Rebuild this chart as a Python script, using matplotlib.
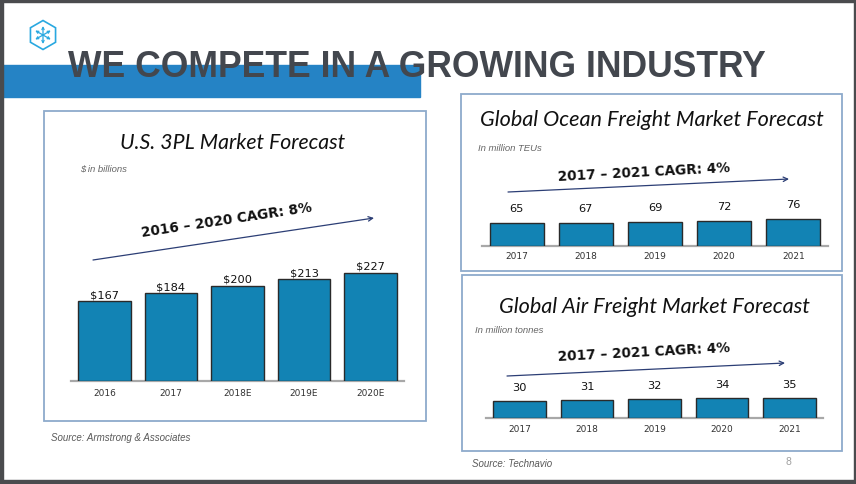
import matplotlib
matplotlib.use('Agg')
import matplotlib.pyplot as plt
from matplotlib.patches import Rectangle, RegularPolygon
import numpy as np

W, H = 856, 485
DPI = 100

# ---------------- data ----------------
us_years = ['2016', '2017', '2018E', '2019E', '2020E']
us_values = [167, 184, 200, 213, 227]
ocean_years = ['2017', '2018', '2019', '2020', '2021']
ocean_values = [65, 67, 69, 72, 76]
air_years = ['2017', '2018', '2019', '2020', '2021']
air_values = [30, 31, 32, 34, 35]

BAR = '#1283b4'
EDGE = '#2a2a2a'
NAVY = '#2c3e75'
BOXC = '#8eaacb'
GRAYLINE = '#a8a8a8'

fig = plt.figure(figsize=(W / DPI, H / DPI), dpi=DPI)
bg = fig.add_axes([0, 0, 1, 1])
bg.set_xlim(0, W)
bg.set_ylim(H, 0)
bg.axis('off')

# slide frame (dark border)
bg.add_patch(Rectangle((0, 0), W, 3.3, color='#4a4b4e', zorder=5))
bg.add_patch(Rectangle((0, 481), W, 4, color='#4a4b4e', zorder=5))
bg.add_patch(Rectangle((0, 0), 2.7, H, color='#4a4b4e', zorder=5))
bg.add_patch(Rectangle((854, 0), 2, H, color='#4a4b4e', zorder=5))

# blue band behind the title
bg.add_patch(Rectangle((2.7, 66), 417.3, 32, color='#2583c5', zorder=1))

# logo
LOGO = '#29a8e0'
bg.add_patch(RegularPolygon((43, 36), 6, radius=14.5, orientation=0,
                            fill=False, ec=LOGO, lw=1.2, zorder=3))
for ang in (90, 210, 330, 30, 150, 270):
    a = np.deg2rad(ang)
    bg.annotate('', xy=(43 + 9 * np.cos(a), 36 - 9 * np.sin(a)), xytext=(43, 36),
                arrowprops=dict(arrowstyle='->', color=LOGO, lw=0.9,
                                shrinkA=0, shrinkB=0, mutation_scale=4), zorder=3)

# main title
bg.text(68, 77, 'WE COMPETE IN A GROWING INDUSTRY', fontsize=25.6,
        fontweight='bold', family=['Liberation Sans', 'DejaVu Sans'],
        color='#43474e', va='baseline', ha='left', zorder=4)

# panel boxes
for (x0, y0, x1, y1) in [(44, 112, 426, 422), (461, 95, 842, 272), (462, 276, 842, 452)]:
    bg.add_patch(Rectangle((x0, y0), x1 - x0, y1 - y0, fill=False, ec=BOXC, lw=1.3, zorder=2))

TFONT = ['Lato', 'DejaVu Sans']
SFONT = ['Liberation Sans', 'DejaVu Sans']

# panel titles
bg.text(233, 149, 'U.S. 3PL Market Forecast', fontsize=15.3, style='italic',
        family=TFONT, color='#111111', ha='center', va='baseline')
bg.text(652, 126, 'Global Ocean Freight Market Forecast', fontsize=15.6, style='italic',
        family=TFONT, color='#111111', ha='center', va='baseline')
bg.text(654, 313, 'Global Air Freight Market Forecast', fontsize=15.6, style='italic',
        family=TFONT, color='#111111', ha='center', va='baseline')

# units
bg.text(80, 169, '$ in billions', fontsize=6.8, style='italic', family=SFONT,
        color='#666666', ha='left', va='center', parse_math=False)
bg.text(478, 149, 'In million TEUs', fontsize=6.8, style='italic', family=SFONT,
        color='#666666', ha='left', va='center')
bg.text(475, 331, 'In million tonnes', fontsize=6.8, style='italic', family=SFONT,
        color='#666666', ha='left', va='center')

# CAGR annotations
CFONT = ['DejaVu Sans']
bg.text(227, 220, '2016 \u2013 2020 CAGR: 8%', fontsize=9.8, fontweight='bold',
        family=CFONT, rotation=8.5, rotation_mode='anchor', ha='center', va='center',
        color='#111111')
bg.text(644, 172, '2017 \u2013 2021 CAGR: 4%', fontsize=9.8, fontweight='bold',
        family=CFONT, rotation=3, rotation_mode='anchor', ha='center', va='center',
        color='#111111')
bg.text(644, 352, '2017 \u2013 2021 CAGR: 4%', fontsize=9.8, fontweight='bold',
        family=CFONT, rotation=3, rotation_mode='anchor', ha='center', va='center',
        color='#111111')

for (s, e) in [((93, 261), (374, 219)), ((508, 193), (789, 180)), ((507, 377), (785, 364))]:
    bg.annotate('', xy=e, xytext=s,
                arrowprops=dict(arrowstyle='->', color=NAVY, lw=0.9,
                                shrinkA=0, shrinkB=0, mutation_scale=8))

# sources / page number
bg.text(51, 438, 'Source: Armstrong & Associates', fontsize=7, style='italic',
        family=SFONT, color='#595959', ha='left', va='center')
bg.text(472, 464, 'Source: Technavio', fontsize=7, style='italic',
        family=SFONT, color='#595959', ha='left', va='center')
bg.text(788, 462, '8', fontsize=7.5, family=SFONT, color='#a0a0a0',
        ha='center', va='center')


def chart(x0, x1, ybase, ytop, px_per_unit, cats, vals, labels, bar_w,
          lab_off_px, tick_pad_pt):
    ax = fig.add_axes([x0 / W, (H - ybase) / H, (x1 - x0) / W, (ybase - ytop) / H])
    ax.set_xlim(-0.5, len(cats) - 0.5)
    ax.set_ylim(0, (ybase - ytop) / px_per_unit)
    ax.patch.set_alpha(0)
    for sp in ('top', 'left', 'right'):
        ax.spines[sp].set_visible(False)
    ax.spines['bottom'].set_color(GRAYLINE)
    ax.spines['bottom'].set_linewidth(1.6)
    ax.set_yticks([])
    x = np.arange(len(cats))
    ax.bar(x, vals, width=bar_w, color=BAR, edgecolor=EDGE, linewidth=1.0, zorder=3)
    ax.set_xticks(x)
    ax.set_xticklabels(cats, fontsize=6.5, color='#333333', family='DejaVu Sans')
    ax.tick_params(axis='x', length=0, pad=tick_pad_pt)
    for xi, v, lab in zip(x, vals, labels):
        ax.annotate(lab, xy=(xi, v), xytext=(0, lab_off_px * 0.72),
                    textcoords='offset points', ha='center', va='baseline',
                    fontsize=8.2, family='DejaVu Sans', color='#111111',
                    parse_math=False, annotation_clip=False)
    return ax


chart(71, 404, 381.7, 250, 0.476, us_years, us_values,
      ['$' + str(v) for v in us_values], 0.79, 4, 5.0)
chart(482, 828, 246.7, 200, 0.345, ocean_years, ocean_values,
      [str(v) for v in ocean_values], 0.78, 12, 3.5)
chart(486, 823, 419.3, 380, 0.59, air_years, air_values,
      [str(v) for v in air_values], 0.78, 11, 4.0)

fig.savefig('out.png', dpi=DPI)
